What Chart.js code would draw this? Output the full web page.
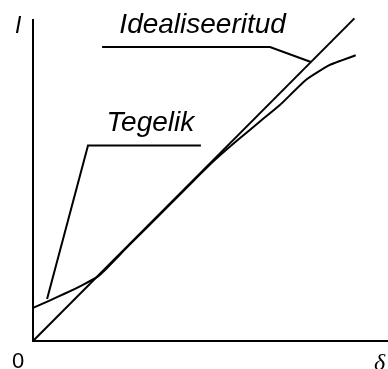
<!DOCTYPE html>
<html>
<head>
<meta charset="utf-8">
<script src="https://cdn.jsdelivr.net/npm/chart.js@4/dist/chart.umd.min.js"></script>
<style>
  html, body { margin: 0; padding: 0; background: #fff; }
  #wrap { width: 388px; height: 369px; position: relative; }
</style>
</head>
<body>
<div id="wrap"><canvas id="chartLoad"></canvas></div>
<script>
// ---- data (δ on x, I on y) ----
const IDEAL_X = [0, 10.05];
const IDEAL_Y = [0, 10.05];

const REAL_X = [0, 0.5, 1.0, 1.5, 2.0, 2.3, 3.0, 4.0, 5.0, 5.7, 6.4, 7.16, 7.72, 8.53, 9.28, 10.09];
const REAL_Y = [1.03, 1.25, 1.48, 1.72, 1.99, 2.26, 2.98, 3.97, 4.97, 5.65, 6.26, 6.89, 7.35, 8.13, 8.6, 8.9];

// leader lines for the two captions
const LEAD_IDEAL_X = [2.16, 7.41, 8.69];
const LEAD_IDEAL_Y = [9.16, 9.16, 8.69];
const LEAD_REAL_X = [5.25, 1.72, 0.44];
const LEAD_REAL_Y = [6.09, 6.09, 1.31];

const CAPTIONS = ['Idealiseeritud', 'Tegelik'];
const AXIS_LABELS = ['I', '0', 'δ'];

const toPoints = (xs, ys) => xs.map((x, i) => ({ x: x, y: ys[i] }));

function lineSet(points, tension) {
    return {
        data: points,
        showLine: true,
        borderColor: '#000',
        borderWidth: 2,
        pointRadius: 0,
        fill: false,
        tension: tension,
        clip: false,
    };
}

// captions and axis letters
const textPlugin = {
    id: 'textPlugin',
    afterDraw(chart) {
        const ctx = chart.ctx;
        const xs = chart.scales.x, ys = chart.scales.y;
        const area = chart.chartArea;
        ctx.save();
        ctx.fillStyle = '#000';
        ctx.textBaseline = 'alphabetic';
        ctx.textAlign = 'left';

        ctx.font = "italic 28px 'Liberation Sans', Arial, sans-serif";
        ctx.fillText(CAPTIONS[0], xs.getPixelForValue(2.7), ys.getPixelForValue(9.6));
        ctx.fillText(CAPTIONS[1], xs.getPixelForValue(2.3), ys.getPixelForValue(6.53));

        ctx.font = "italic 23px 'Liberation Sans', Arial, sans-serif";
        ctx.fillText(AXIS_LABELS[0], area.left - 18, area.top + 13);

        ctx.font = "22px 'Liberation Sans', Arial, sans-serif";
        ctx.fillText(AXIS_LABELS[1], area.left - 21, area.bottom + 27);

        ctx.font = "italic 24px 'Liberation Serif', 'Times New Roman', serif";
        ctx.fillText(AXIS_LABELS[2], area.right - 14, area.bottom + 29);
        ctx.restore();
    }
};

new Chart(document.getElementById('chartLoad'), {
    type: 'scatter',
    data: {
        datasets: [
            lineSet(toPoints(IDEAL_X, IDEAL_Y), 0),
            lineSet(toPoints(REAL_X, REAL_Y), 0.15),
            lineSet(toPoints(LEAD_IDEAL_X, LEAD_IDEAL_Y), 0),
            lineSet(toPoints(LEAD_REAL_X, LEAD_REAL_Y), 0),
        ]
    },
    options: {
        responsive: true, maintainAspectRatio: false,
        animation: false,
        layout: { padding: { left: 25, top: 20, right: 0, bottom: 20 } },
        plugins: { legend: { display: false }, tooltip: { enabled: false } },
        scales: {
            x: {
                type: 'linear', min: 0, max: 11.1,
                grid: { display: false },
                ticks: { display: false },
                border: { display: true, color: '#000', width: 2 },
            },
            y: {
                type: 'linear', min: 0, max: 10,
                grid: { display: false },
                ticks: { display: false },
                border: { display: true, color: '#000', width: 2 },
            }
        }
    },
    plugins: [textPlugin]
});
</script>
</body>
</html>
